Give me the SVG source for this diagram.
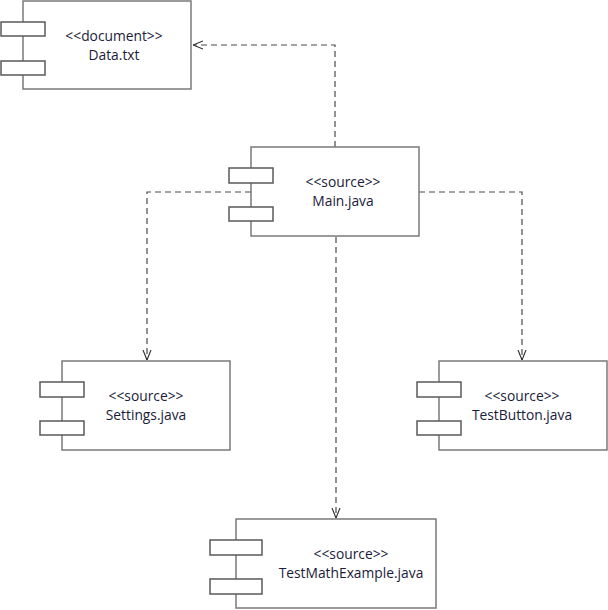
<svg xmlns="http://www.w3.org/2000/svg" width="608" height="610" viewBox="0 0 608 610">
  <defs>
    <style>
      .body { fill: #ffffff; stroke: #7a7a7a; stroke-width: 1.5; }
      .port { fill: #ffffff; stroke: #5a5a5a; stroke-width: 1.5; }
      .label { font-family: "Open Sans", "Noto Sans", sans-serif; font-size: 13.8px; fill: #1b1b3a; text-anchor: middle; }
      .dep { fill: none; stroke: #4a4a4a; stroke-width: 1.2; stroke-dasharray: 6 4; }
      .head { fill: none; stroke: #2a2a2a; stroke-width: 1.1; }
    </style>
    <marker id="open" viewBox="0 0 10 10" refX="10" refY="5" markerWidth="10" markerHeight="10" markerUnits="userSpaceOnUse" orient="auto">
      <path class="head" d="M0,1 L10,5 L0,9"/>
    </marker>
  </defs>

  <g id="connectors">
    <path class="dep" d="M335,147 V45 H193" marker-end="url(#open)"/>
    <path class="dep" d="M251,192 H147 V360" marker-end="url(#open)"/>
    <path class="dep" d="M419,192 H522 V360" marker-end="url(#open)"/>
    <path class="dep" d="M336,237 V518" marker-end="url(#open)"/>
  </g>

  <g id="data-txt">
    <rect class="body" x="23" y="1" width="168" height="88"/>
    <rect class="port" x="1" y="22" width="44" height="14"/>
    <rect class="port" x="1" y="61" width="44" height="14"/>
    <text class="label" x="114" y="41">&lt;&lt;document&gt;&gt;</text>
    <text class="label" x="114" y="60">Data.txt</text>
  </g>

  <g id="main-java">
    <rect class="body" x="251" y="147" width="168" height="89"/>
    <rect class="port" x="229" y="168" width="44" height="15"/>
    <rect class="port" x="229" y="207" width="44" height="14"/>
    <text class="label" x="343" y="187">&lt;&lt;source&gt;&gt;</text>
    <text class="label" x="343" y="206">Main.java</text>
  </g>

  <g id="settings-java">
    <rect class="body" x="62" y="361" width="168" height="89"/>
    <rect class="port" x="40" y="382" width="44" height="15"/>
    <rect class="port" x="40" y="421" width="44" height="14"/>
    <text class="label" x="146" y="401">&lt;&lt;source&gt;&gt;</text>
    <text class="label" x="146" y="420">Settings.java</text>
  </g>

  <g id="testbutton-java">
    <rect class="body" x="439" y="361" width="168" height="89"/>
    <rect class="port" x="417" y="382" width="44" height="15"/>
    <rect class="port" x="417" y="421" width="44" height="14"/>
    <text class="label" x="522" y="401">&lt;&lt;source&gt;&gt;</text>
    <text class="label" x="522" y="420">TestButton.java</text>
  </g>

  <g id="testmathexample-java">
    <rect class="body" x="236" y="519" width="200" height="89"/>
    <rect class="port" x="210" y="540" width="52" height="15"/>
    <rect class="port" x="210" y="579" width="52" height="15"/>
    <text class="label" x="351" y="559">&lt;&lt;source&gt;&gt;</text>
    <text class="label" x="351" y="578">TestMathExample.java</text>
  </g>
</svg>
